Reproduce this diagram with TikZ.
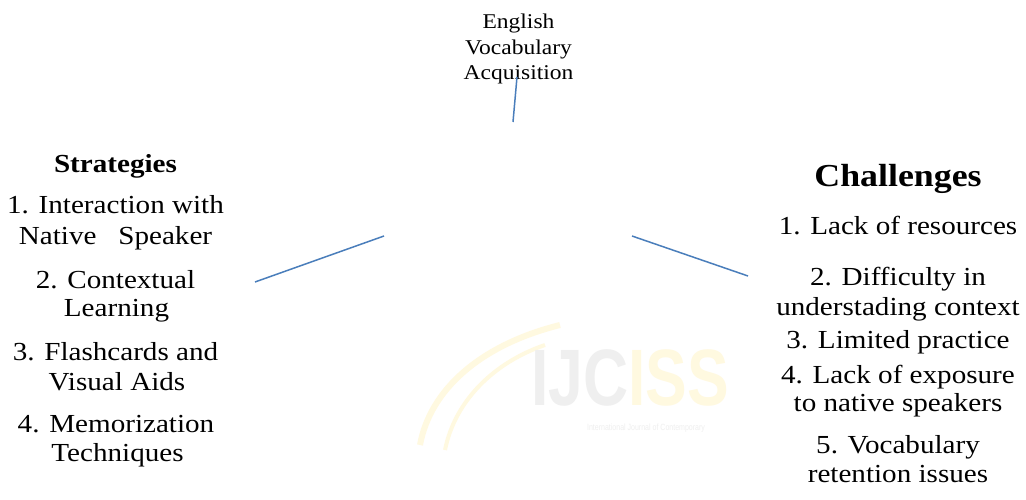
\documentclass[tikz,border=0pt]{standalone}
\usepackage{fontspec}
\setmainfont{Liberation Serif}[FakeStretch=1.12]
\newfontfamily\wmfont{Liberation Sans}[FakeStretch=0.78]
\definecolor{lineblue}{HTML}{4A7EBB}
\definecolor{wmgrey}{HTML}{EFEFEF}
\definecolor{wmyellow}{HTML}{FFF9E0}
\tikzset{
  every node/.style={inner sep=0pt, outer sep=0pt},
  lst/.style={anchor=base, font=\fontsize{26}{30}\selectfont},
  toptxt/.style={anchor=base, font=\fontsize{21}{25}\selectfont},
  head/.style={anchor=base, font=\fontsize{26}{30}\selectfont\bfseries},
  bighead/.style={anchor=base, font=\fontsize{32}{36}\selectfont\bfseries},
  spoke/.style={draw=lineblue, line width=1.5pt},
  wm/.style={anchor=base, font=\fontsize{80}{80}\wmfont\bfseries}
}
\begin{document}
\begin{tikzpicture}[x=1pt,y=-1pt]
\useasboundingbox[fill=white] (0,0) rectangle (1026,500);

% watermark
\draw[wmyellow, line width=6pt] (420,445) .. controls (430,390) and (480,345) .. (560,325);
\draw[wmyellow, line width=4pt] (445,450) .. controls (455,400) and (495,362) .. (545,345);
\node[wm, text=wmgrey] (wmA) at (580,405) {IJC};
\node[wm, text=wmyellow, anchor=base west] (wmB) at (wmA.base east) {ISS};
\node[anchor=base, font=\fontsize{9}{10}\wmfont, text=wmgrey] (wmC) at (646,430) {International Journal of Contemporary};

% top
\node[toptxt] (t1) at (518.5,29) {English};
\node[toptxt] (t2) at (518.5,55) {Vocabulary};
\node[toptxt] (t3) at (518.5,80) {Acquisition};

% left
\node[head] (sh) at (115.5,173) {Strategies};
\node[lst] (s1a) at (115.5,214) {1. Interaction with};
\node[lst] (s1b) at (115.5,244) {Native\ \ \ Speaker};
\node[lst] (s2a) at (115.5,288) {2. Contextual};
\node[lst] (s2b) at (116.5,316) {Learning};
\node[lst] (s3a) at (115.5,360) {3. Flashcards and};
\node[lst] (s3b) at (117,390) {Visual Aids};
\node[lst] (s4a) at (116,432) {4. Memorization};
\node[lst] (s4b) at (117.5,461) {Techniques};

% right
\node[bighead] (ch) at (898,186) {Challenges};
\node[lst] (c1) at (898,234) {1. Lack of resources};
\node[lst] (c2a) at (898,285) {2. Difficulty in};
\node[lst] (c2b) at (898,315) {understading context};
\node[lst] (c3) at (898,348) {3. Limited practice};
\node[lst] (c4a) at (898,383) {4. Lack of exposure};
\node[lst] (c4b) at (898,411) {to native speakers};
\node[lst] (c5a) at (898,453) {5. Vocabulary};
\node[lst] (c5b) at (898,482) {retention issues};

% spokes
\coordinate (topA) at (517,77);
\coordinate (topB) at (513,122);
\coordinate (leftA) at (384,236);
\coordinate (leftB) at (255,282);
\coordinate (rightA) at (632,236);
\coordinate (rightB) at (748,276);
\draw[spoke] (topA) -- (topB);
\draw[spoke] (leftA) -- (leftB);
\draw[spoke] (rightA) -- (rightB);
\end{tikzpicture}
\end{document}
